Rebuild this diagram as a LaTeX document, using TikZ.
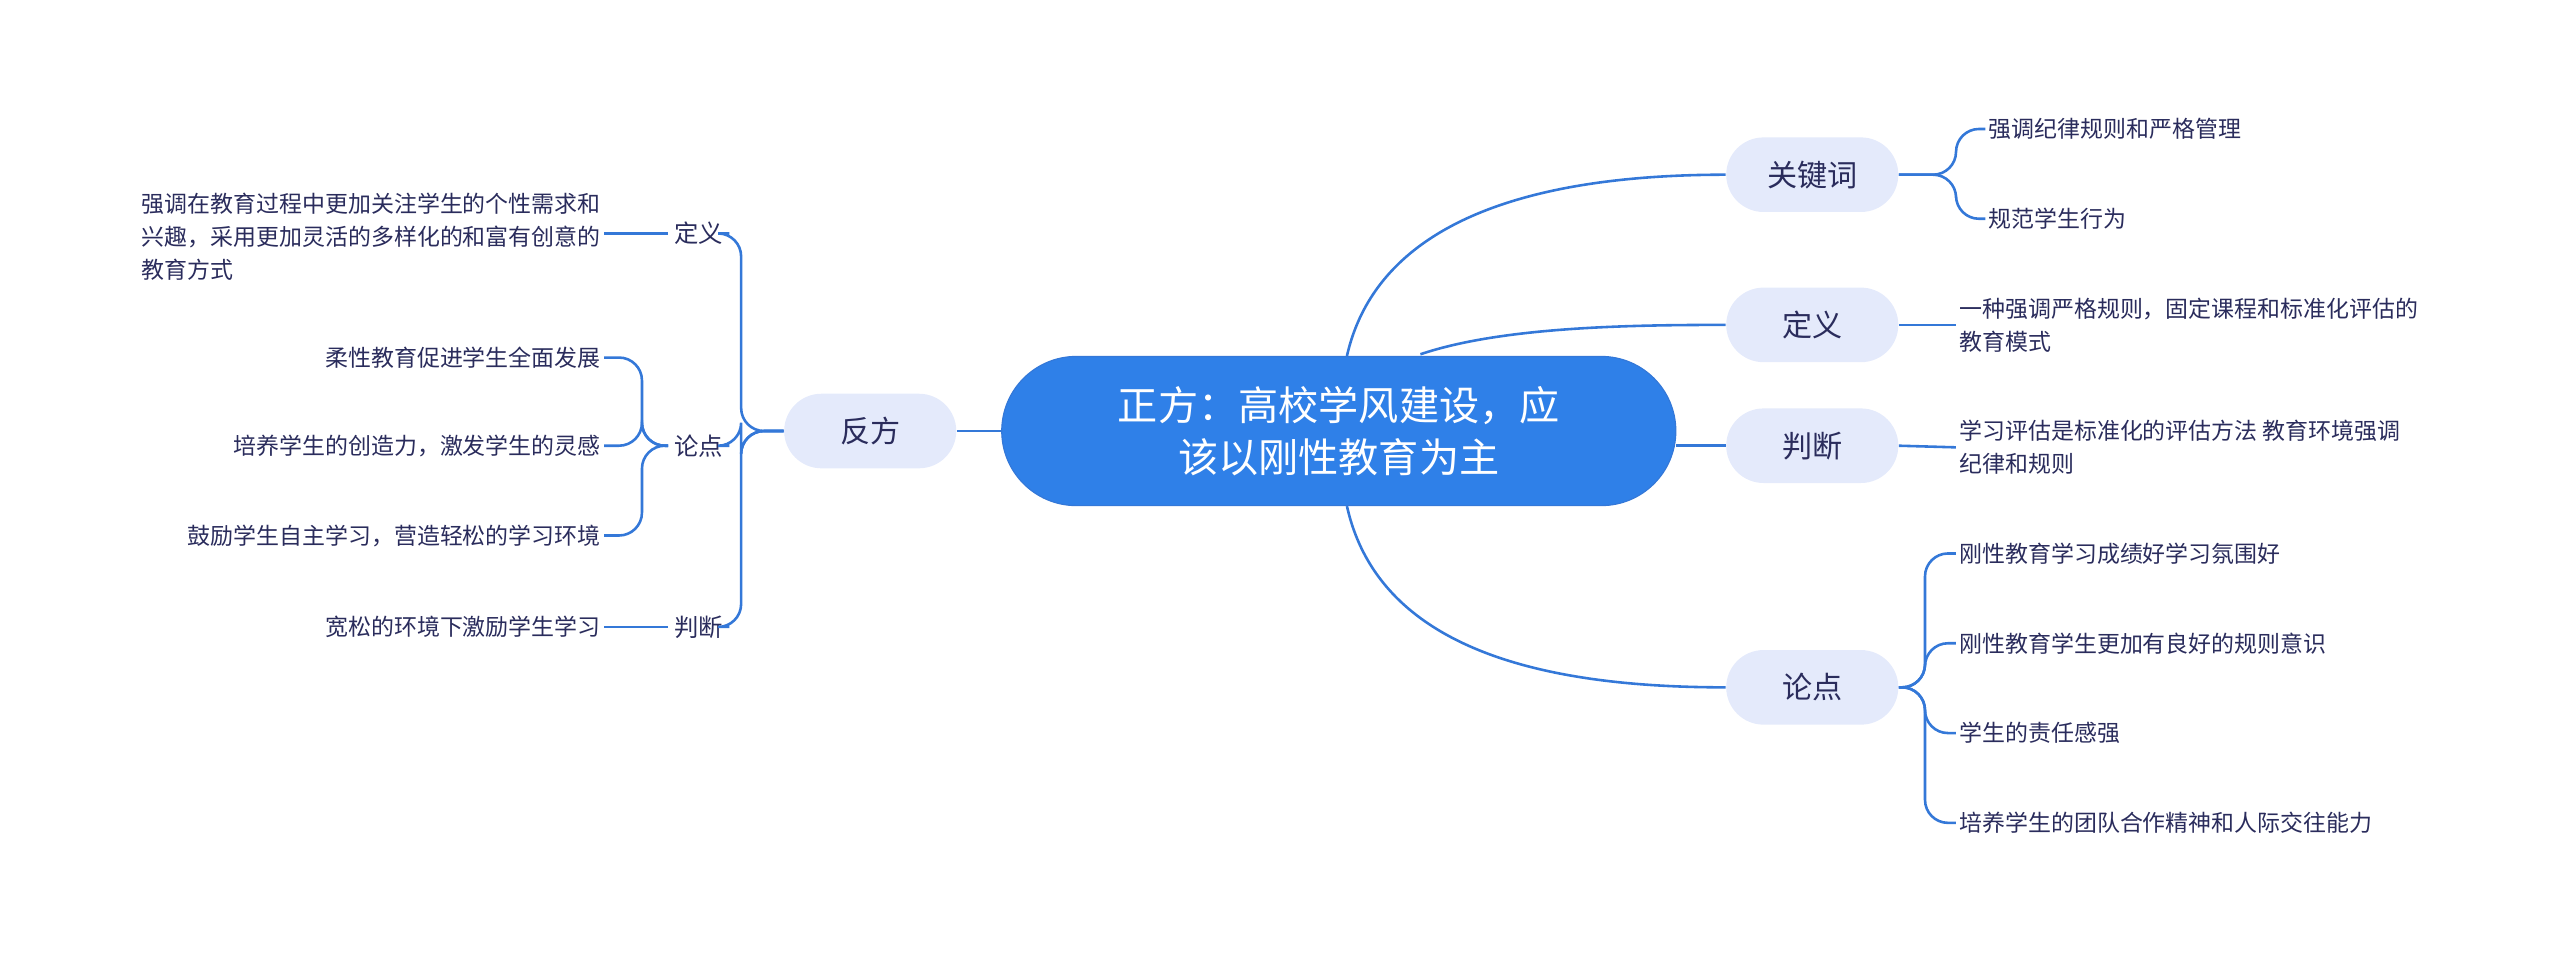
\documentclass[tikz,border=0pt]{standalone}
\usepackage{fontspec}
\setmainfont{Noto Sans CJK SC}
\definecolor{mainblue}{HTML}{2F80E8}
\definecolor{linkblue}{HTML}{3478D8}
\definecolor{pill}{HTML}{E4EAFB}
\definecolor{ink}{HTML}{2A2C5C}
\tikzset{
  root/.style={fill=mainblue, draw=linkblue, rounded corners=26pt, minimum width=235pt, minimum height=52pt, text=white, font=\fontsize{14}{18}\selectfont, align=center},
  branch/.style={fill=pill, rounded corners=13pt, minimum width=60pt, minimum height=26pt, text=ink, font=\fontsize{10.5}{12}\selectfont},
  label/.style={text=ink, font=\fontsize{8.5}{10}\selectfont, inner sep=2pt},
  leaf/.style={text=ink, font=\fontsize{8}{11.5}\selectfont, align=left, inner sep=1pt},
  link/.style={draw=linkblue, line width=0.9pt}
}
\begin{document}
\begin{tikzpicture}[x=0.02cm, y=-0.02cm]
        \useasboundingbox (0,0) rectangle (1568,584);

        % root and right branches
        \node[root] (zf) at (820,264) {正方：高校学风建设，应\\该以刚性教育为主};
        \node[branch] (gjc) at (1110,107) {关键词};
        \node[branch] (dy) at (1110,199) {定义};
        \node[branch] (pd) at (1110,273) {判断};
        \node[branch] (ld) at (1110,421) {论点};
        \node[branch] (ff) at (533,264) {反方};

        \draw[link] (825,218) .. controls (845,130) and (950,107) .. (gjc.west);
        \draw[link] (870,217) .. controls (920,200) and (1000,199) .. (dy.west);
        \draw[link] (zf.east |- pd) -- (pd.west);
        \draw[link] (825,310) .. controls (845,400) and (950,421) .. (ld.west);
        \draw[link] (ff.east) -- (ff.east -| zf.west);

        % right leaves
        \node[leaf, anchor=west] (gjc1) at (1216,79) {强调纪律规则和严格管理};
        \node[leaf, anchor=west] (gjc2) at (1216,134) {规范学生行为};
        \node[leaf, anchor=west] (dy1) at (1198,199) {一种强调严格规则，固定课程和标准化评估的\\教育模式};
        \node[leaf, anchor=west] (pd1) at (1198,274) {学习评估是标准化的评估方法 教育环境强调\\纪律和规则};
        \node[leaf, anchor=west] (ld1) at (1198,339) {刚性教育学习成绩好学习氛围好};
        \node[leaf, anchor=west] (ld2) at (1198,394) {刚性教育学生更加有良好的规则意识};
        \node[leaf, anchor=west] (ld3) at (1198,449) {学生的责任感强};
        \node[leaf, anchor=west] (ld4) at (1198,504) {培养学生的团队合作精神和人际交往能力};

        \foreach \c in {gjc1,gjc2}
          \draw[link, rounded corners=8pt] (gjc.east) -- ++(35,0) |- (\c.west);
        \draw[link] (dy.east) -- (dy1.west);
        \draw[link] (pd.east) -- (pd1.west);
        \foreach \c in {ld1,ld2,ld3,ld4}
          \draw[link, rounded corners=8pt] (ld.east) -- ++(16,0) |- (\c.west);

        % left side
        \node[label] (fdy) at (428,143) {定义};
        \node[label] (fld) at (428,273) {论点};
        \node[label] (fpd) at (428,384) {判断};
        \foreach \c in {fdy,fld,fpd}
          \draw[link, rounded corners=8pt] (ff.west) -- ++(-26,0) |- (\c.east);

        \node[leaf, anchor=east] (fdy1) at (370,145) {强调在教育过程中更加关注学生的个性需求和\\兴趣，采用更加灵活的多样化的和富有创意的\\教育方式};
        \node[leaf, anchor=east] (fld1) at (370,219) {柔性教育促进学生全面发展};
        \node[leaf, anchor=east] (fld2) at (370,273) {培养学生的创造力，激发学生的灵感};
        \node[leaf, anchor=east] (fld3) at (370,328) {鼓励学生自主学习，营造轻松的学习环境};
        \node[leaf, anchor=east] (fpd1) at (370,384) {宽松的环境下激励学生学习};

        \draw[link] (fdy.west) -- (fdy1.east |- fdy);
        \draw[link] (fpd.west) -- (fpd1.east);
        \foreach \c in {fld1,fld2,fld3}
          \draw[link, rounded corners=8pt] (fld.west) -- ++(-16,0) |- (\c.east);
\end{tikzpicture}
\end{document}
